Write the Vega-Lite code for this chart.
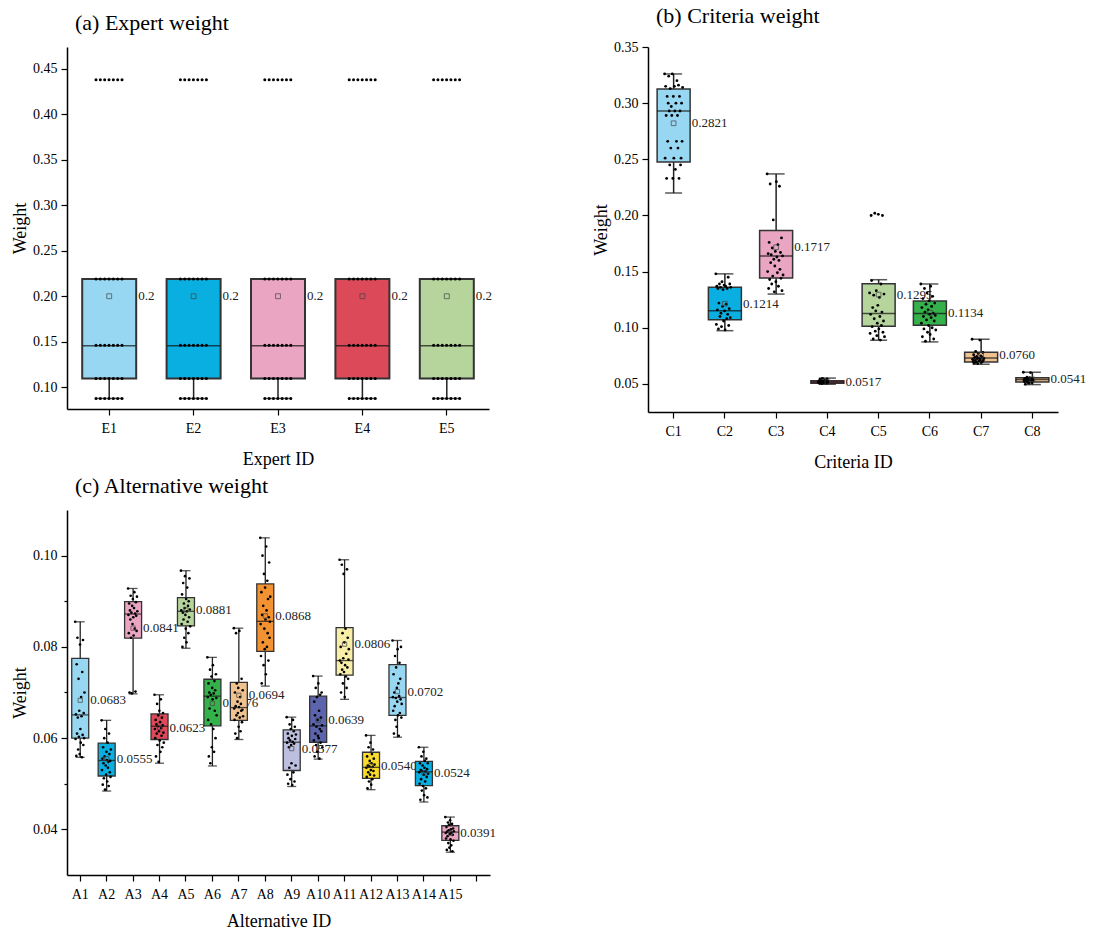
{
"$schema": "https://vega.github.io/schema/vega-lite/v6.json",
"background": "white",
"padding": {"left": 11, "top": 5, "right": 5, "bottom": 2},
"resolve": {"scale": {"color": "independent", "xOffset": "independent"}},
"datasets": {
"as": [
{"g":"E1","lo":0.0876,"q1":0.1096,"md":0.1455,"q3":0.219,"hi":0.219,"mean":0.2},
{"g":"E2","lo":0.0876,"q1":0.1096,"md":0.1455,"q3":0.219,"hi":0.219,"mean":0.2},
{"g":"E3","lo":0.0876,"q1":0.1096,"md":0.1455,"q3":0.219,"hi":0.219,"mean":0.2},
{"g":"E4","lo":0.0876,"q1":0.1096,"md":0.1455,"q3":0.219,"hi":0.219,"mean":0.2},
{"g":"E5","lo":0.0876,"q1":0.1096,"md":0.1455,"q3":0.219,"hi":0.219,"mean":0.2}
],
"ap": [
{"g":"E1","v":0.438},{"g":"E1","v":0.438},{"g":"E1","v":0.438},{"g":"E1","v":0.438},{"g":"E1","v":0.438},{"g":"E1","v":0.438},{"g":"E1","v":0.438},
{"g":"E1","v":0.219},{"g":"E1","v":0.219},{"g":"E1","v":0.219},{"g":"E1","v":0.219},{"g":"E1","v":0.219},{"g":"E1","v":0.219},{"g":"E1","v":0.219},
{"g":"E1","v":0.146},{"g":"E1","v":0.146},{"g":"E1","v":0.146},{"g":"E1","v":0.146},{"g":"E1","v":0.146},{"g":"E1","v":0.146},{"g":"E1","v":0.146},
{"g":"E1","v":0.1096},{"g":"E1","v":0.1096},{"g":"E1","v":0.1096},{"g":"E1","v":0.1096},{"g":"E1","v":0.1096},{"g":"E1","v":0.1096},{"g":"E1","v":0.1096},
{"g":"E1","v":0.0876},{"g":"E1","v":0.0876},{"g":"E1","v":0.0876},{"g":"E1","v":0.0876},{"g":"E1","v":0.0876},{"g":"E1","v":0.0876},{"g":"E1","v":0.0876},
{"g":"E2","v":0.438},{"g":"E2","v":0.438},{"g":"E2","v":0.438},{"g":"E2","v":0.438},{"g":"E2","v":0.438},{"g":"E2","v":0.438},{"g":"E2","v":0.438},
{"g":"E2","v":0.219},{"g":"E2","v":0.219},{"g":"E2","v":0.219},{"g":"E2","v":0.219},{"g":"E2","v":0.219},{"g":"E2","v":0.219},{"g":"E2","v":0.219},
{"g":"E2","v":0.146},{"g":"E2","v":0.146},{"g":"E2","v":0.146},{"g":"E2","v":0.146},{"g":"E2","v":0.146},{"g":"E2","v":0.146},{"g":"E2","v":0.146},
{"g":"E2","v":0.1096},{"g":"E2","v":0.1096},{"g":"E2","v":0.1096},{"g":"E2","v":0.1096},{"g":"E2","v":0.1096},{"g":"E2","v":0.1096},{"g":"E2","v":0.1096},
{"g":"E2","v":0.0876},{"g":"E2","v":0.0876},{"g":"E2","v":0.0876},{"g":"E2","v":0.0876},{"g":"E2","v":0.0876},{"g":"E2","v":0.0876},{"g":"E2","v":0.0876},
{"g":"E3","v":0.438},{"g":"E3","v":0.438},{"g":"E3","v":0.438},{"g":"E3","v":0.438},{"g":"E3","v":0.438},{"g":"E3","v":0.438},{"g":"E3","v":0.438},
{"g":"E3","v":0.219},{"g":"E3","v":0.219},{"g":"E3","v":0.219},{"g":"E3","v":0.219},{"g":"E3","v":0.219},{"g":"E3","v":0.219},{"g":"E3","v":0.219},
{"g":"E3","v":0.146},{"g":"E3","v":0.146},{"g":"E3","v":0.146},{"g":"E3","v":0.146},{"g":"E3","v":0.146},{"g":"E3","v":0.146},{"g":"E3","v":0.146},
{"g":"E3","v":0.1096},{"g":"E3","v":0.1096},{"g":"E3","v":0.1096},{"g":"E3","v":0.1096},{"g":"E3","v":0.1096},{"g":"E3","v":0.1096},{"g":"E3","v":0.1096},
{"g":"E3","v":0.0876},{"g":"E3","v":0.0876},{"g":"E3","v":0.0876},{"g":"E3","v":0.0876},{"g":"E3","v":0.0876},{"g":"E3","v":0.0876},{"g":"E3","v":0.0876},
{"g":"E4","v":0.438},{"g":"E4","v":0.438},{"g":"E4","v":0.438},{"g":"E4","v":0.438},{"g":"E4","v":0.438},{"g":"E4","v":0.438},{"g":"E4","v":0.438},
{"g":"E4","v":0.219},{"g":"E4","v":0.219},{"g":"E4","v":0.219},{"g":"E4","v":0.219},{"g":"E4","v":0.219},{"g":"E4","v":0.219},{"g":"E4","v":0.219},
{"g":"E4","v":0.146},{"g":"E4","v":0.146},{"g":"E4","v":0.146},{"g":"E4","v":0.146},{"g":"E4","v":0.146},{"g":"E4","v":0.146},{"g":"E4","v":0.146},
{"g":"E4","v":0.1096},{"g":"E4","v":0.1096},{"g":"E4","v":0.1096},{"g":"E4","v":0.1096},{"g":"E4","v":0.1096},{"g":"E4","v":0.1096},{"g":"E4","v":0.1096},
{"g":"E4","v":0.0876},{"g":"E4","v":0.0876},{"g":"E4","v":0.0876},{"g":"E4","v":0.0876},{"g":"E4","v":0.0876},{"g":"E4","v":0.0876},{"g":"E4","v":0.0876},
{"g":"E5","v":0.438},{"g":"E5","v":0.438},{"g":"E5","v":0.438},{"g":"E5","v":0.438},{"g":"E5","v":0.438},{"g":"E5","v":0.438},{"g":"E5","v":0.438},
{"g":"E5","v":0.219},{"g":"E5","v":0.219},{"g":"E5","v":0.219},{"g":"E5","v":0.219},{"g":"E5","v":0.219},{"g":"E5","v":0.219},{"g":"E5","v":0.219},
{"g":"E5","v":0.146},{"g":"E5","v":0.146},{"g":"E5","v":0.146},{"g":"E5","v":0.146},{"g":"E5","v":0.146},{"g":"E5","v":0.146},{"g":"E5","v":0.146},
{"g":"E5","v":0.1096},{"g":"E5","v":0.1096},{"g":"E5","v":0.1096},{"g":"E5","v":0.1096},{"g":"E5","v":0.1096},{"g":"E5","v":0.1096},{"g":"E5","v":0.1096},
{"g":"E5","v":0.0876},{"g":"E5","v":0.0876},{"g":"E5","v":0.0876},{"g":"E5","v":0.0876},{"g":"E5","v":0.0876},{"g":"E5","v":0.0876},{"g":"E5","v":0.0876}
],
"bs": [
{"g":"C1","lo":0.220,"q1":0.2475,"md":0.293,"q3":0.3125,"hi":0.326,"mean":0.2821},
{"g":"C2","lo":0.0974,"q1":0.1072,"md":0.1152,"q3":0.136,"hi":0.148,"mean":0.1214},
{"g":"C3","lo":0.130,"q1":0.1443,"md":0.1639,"q3":0.1867,"hi":0.237,"mean":0.1717},
{"g":"C4","lo":0.0497,"q1":0.0505,"md":0.0517,"q3":0.0528,"hi":0.0552,"mean":0.0517},
{"g":"C5","lo":0.0889,"q1":0.1013,"md":0.1126,"q3":0.1392,"hi":0.1428,"mean":0.1295},
{"g":"C6","lo":0.0874,"q1":0.1022,"md":0.1126,"q3":0.1238,"hi":0.139,"mean":0.1134},
{"g":"C7","lo":0.0675,"q1":0.0696,"md":0.0731,"q3":0.0782,"hi":0.0898,"mean":0.0760},
{"g":"C8","lo":0.0494,"q1":0.0518,"md":0.054,"q3":0.0556,"hi":0.0604,"mean":0.0541}
],
"bp": [
{"g":"C1","v":0.326},{"g":"C1","v":0.251},{"g":"C1","v":0.315},{"g":"C1","v":0.289},{"g":"C1","v":0.233},{"g":"C1","v":0.306},{"g":"C1","v":0.266},{"g":"C1","v":0.300},{"g":"C1","v":0.324},{"g":"C1","v":0.293},{"g":"C1","v":0.245},{"g":"C1","v":0.313},{"g":"C1","v":0.260},{"g":"C1","v":0.297},{"g":"C1","v":0.289},{"g":"C1","v":0.326},{"g":"C1","v":0.233},{"g":"C1","v":0.306},{"g":"C1","v":0.251},{"g":"C1","v":0.315},{"g":"C1","v":0.293},{"g":"C1","v":0.241},{"g":"C1","v":0.300},{"g":"C1","v":0.266},{"g":"C1","v":0.320},{"g":"C1","v":0.289},{"g":"C1","v":0.260},{"g":"C1","v":0.316},{"g":"C1","v":0.233},{"g":"C1","v":0.306},{"g":"C1","v":0.293},{"g":"C1","v":0.245},{"g":"C1","v":0.251},{"g":"C1","v":0.300},{"g":"C1","v":0.266},{"g":"C1","v":0.314},
{"g":"C2","v":0.148},{"g":"C2","v":0.103},{"g":"C2","v":0.137},{"g":"C2","v":0.116},{"g":"C2","v":0.135},{"g":"C2","v":0.099},{"g":"C2","v":0.122},{"g":"C2","v":0.139},{"g":"C2","v":0.110},{"g":"C2","v":0.136},{"g":"C2","v":0.113},{"g":"C2","v":0.101},{"g":"C2","v":0.141},{"g":"C2","v":0.119},{"g":"C2","v":0.134},{"g":"C2","v":0.106},{"g":"C2","v":0.138},{"g":"C2","v":0.115},{"g":"C2","v":0.098},{"g":"C2","v":0.137},{"g":"C2","v":0.121},{"g":"C2","v":0.108},{"g":"C2","v":0.135},{"g":"C2","v":0.112},{"g":"C2","v":0.145},{"g":"C2","v":0.102},{"g":"C2","v":0.117},{"g":"C2","v":0.139},{"g":"C2","v":0.109},{"g":"C2","v":0.136},
{"g":"C3","v":0.237},{"g":"C3","v":0.150},{"g":"C3","v":0.166},{"g":"C3","v":0.135},{"g":"C3","v":0.176},{"g":"C3","v":0.143},{"g":"C3","v":0.228},{"g":"C3","v":0.158},{"g":"C3","v":0.165},{"g":"C3","v":0.139},{"g":"C3","v":0.171},{"g":"C3","v":0.146},{"g":"C3","v":0.196},{"g":"C3","v":0.161},{"g":"C3","v":0.132},{"g":"C3","v":0.155},{"g":"C3","v":0.168},{"g":"C3","v":0.141},{"g":"C3","v":0.230},{"g":"C3","v":0.163},{"g":"C3","v":0.149},{"g":"C3","v":0.174},{"g":"C3","v":0.137},{"g":"C3","v":0.160},{"g":"C3","v":0.226},{"g":"C3","v":0.152},{"g":"C3","v":0.167},{"g":"C3","v":0.144},{"g":"C3","v":0.180},{"g":"C3","v":0.133},{"g":"C3","v":0.164},{"g":"C3","v":0.147},
{"g":"C4","v":0.0515},{"g":"C4","v":0.0525},{"g":"C4","v":0.0505},{"g":"C4","v":0.0540},{"g":"C4","v":0.0518},{"g":"C4","v":0.0512},{"g":"C4","v":0.0530},{"g":"C4","v":0.0502},{"g":"C4","v":0.0550},{"g":"C4","v":0.0516},{"g":"C4","v":0.0522},{"g":"C4","v":0.0508},{"g":"C4","v":0.0535},{"g":"C4","v":0.0519},{"g":"C4","v":0.0511},{"g":"C4","v":0.0527},{"g":"C4","v":0.0504},{"g":"C4","v":0.0545},{"g":"C4","v":0.0514},{"g":"C4","v":0.0520},
{"g":"C5","v":0.131},{"g":"C5","v":0.095},{"g":"C5","v":0.112},{"g":"C5","v":0.200},{"g":"C5","v":0.142},{"g":"C5","v":0.101},{"g":"C5","v":0.118},{"g":"C5","v":0.090},{"g":"C5","v":0.129},{"g":"C5","v":0.108},{"g":"C5","v":0.202},{"g":"C5","v":0.097},{"g":"C5","v":0.115},{"g":"C5","v":0.133},{"g":"C5","v":0.093},{"g":"C5","v":0.104},{"g":"C5","v":0.120},{"g":"C5","v":0.201},{"g":"C5","v":0.099},{"g":"C5","v":0.127},{"g":"C5","v":0.110},{"g":"C5","v":0.089},{"g":"C5","v":0.139},{"g":"C5","v":0.102},{"g":"C5","v":0.114},{"g":"C5","v":0.200},{"g":"C5","v":0.096},{"g":"C5","v":0.106},{"g":"C5","v":0.130},{"g":"C5","v":0.092},
{"g":"C6","v":0.139},{"g":"C6","v":0.104},{"g":"C6","v":0.118},{"g":"C6","v":0.092},{"g":"C6","v":0.126},{"g":"C6","v":0.110},{"g":"C6","v":0.099},{"g":"C6","v":0.135},{"g":"C6","v":0.114},{"g":"C6","v":0.088},{"g":"C6","v":0.121},{"g":"C6","v":0.107},{"g":"C6","v":0.131},{"g":"C6","v":0.096},{"g":"C6","v":0.116},{"g":"C6","v":0.102},{"g":"C6","v":0.124},{"g":"C6","v":0.112},{"g":"C6","v":0.094},{"g":"C6","v":0.137},{"g":"C6","v":0.109},{"g":"C6","v":0.119},{"g":"C6","v":0.100},{"g":"C6","v":0.128},{"g":"C6","v":0.113},{"g":"C6","v":0.090},{"g":"C6","v":0.106},{"g":"C6","v":0.122},{"g":"C6","v":0.111},{"g":"C6","v":0.098},
{"g":"C7","v":0.0898},{"g":"C7","v":0.0720},{"g":"C7","v":0.0700},{"g":"C7","v":0.0760},{"g":"C7","v":0.0685},{"g":"C7","v":0.0735},{"g":"C7","v":0.0710},{"g":"C7","v":0.0790},{"g":"C7","v":0.0695},{"g":"C7","v":0.0745},{"g":"C7","v":0.0725},{"g":"C7","v":0.0680},{"g":"C7","v":0.0770},{"g":"C7","v":0.0705},{"g":"C7","v":0.0730},{"g":"C7","v":0.0890},{"g":"C7","v":0.0715},{"g":"C7","v":0.0750},{"g":"C7","v":0.0690},{"g":"C7","v":0.0740},{"g":"C7","v":0.0700},{"g":"C7","v":0.0780},{"g":"C7","v":0.0712},{"g":"C7","v":0.0728},
{"g":"C8","v":0.0604},{"g":"C8","v":0.0535},{"g":"C8","v":0.0520},{"g":"C8","v":0.0550},{"g":"C8","v":0.0498},{"g":"C8","v":0.0542},{"g":"C8","v":0.0528},{"g":"C8","v":0.0560},{"g":"C8","v":0.0515},{"g":"C8","v":0.0545},{"g":"C8","v":0.0538},{"g":"C8","v":0.0505},{"g":"C8","v":0.0555},{"g":"C8","v":0.0532},{"g":"C8","v":0.0600},{"g":"C8","v":0.0525},{"g":"C8","v":0.0548},{"g":"C8","v":0.0510},{"g":"C8","v":0.0540},{"g":"C8","v":0.0530}
],
"cs": [
{"g":"A1","lo":0.0558,"q1":0.0600,"md":0.0651,"q3":0.0775,"hi":0.0855,"mean":0.0683},
{"g":"A2","lo":0.0484,"q1":0.0517,"md":0.0551,"q3":0.0589,"hi":0.0639,"mean":0.0555},
{"g":"A3","lo":0.0697,"q1":0.0819,"md":0.0872,"q3":0.0899,"hi":0.0928,"mean":0.0841},
{"g":"A4","lo":0.0545,"q1":0.0597,"md":0.0626,"q3":0.0653,"hi":0.0695,"mean":0.0623},
{"g":"A5","lo":0.0797,"q1":0.0846,"md":0.0878,"q3":0.0908,"hi":0.0967,"mean":0.0881},
{"g":"A6","lo":0.0539,"q1":0.0627,"md":0.0692,"q3":0.0729,"hi":0.0777,"mean":0.0676},
{"g":"A7","lo":0.0597,"q1":0.0639,"md":0.0667,"q3":0.0722,"hi":0.0841,"mean":0.0694},
{"g":"A8","lo":0.0714,"q1":0.0790,"md":0.0856,"q3":0.0938,"hi":0.1039,"mean":0.0868},
{"g":"A9","lo":0.0494,"q1":0.0529,"md":0.0591,"q3":0.0618,"hi":0.0646,"mean":0.0577},
{"g":"A10","lo":0.0554,"q1":0.0591,"md":0.0627,"q3":0.0692,"hi":0.0736,"mean":0.0639},
{"g":"A11","lo":0.0685,"q1":0.0738,"md":0.0770,"q3":0.0842,"hi":0.0991,"mean":0.0806},
{"g":"A12","lo":0.0487,"q1":0.0512,"md":0.0536,"q3":0.0569,"hi":0.0606,"mean":0.0540},
{"g":"A13","lo":0.0602,"q1":0.0650,"md":0.0689,"q3":0.0761,"hi":0.0814,"mean":0.0702},
{"g":"A14","lo":0.0460,"q1":0.0496,"md":0.0526,"q3":0.0549,"hi":0.0580,"mean":0.0524},
{"g":"A15","lo":0.0350,"q1":0.0376,"md":0.0394,"q3":0.0408,"hi":0.0427,"mean":0.0391}
],
"cp": [
{"g":"A1","v":0.0855},{"g":"A1","v":0.0598},{"g":"A1","v":0.0652},{"g":"A1","v":0.0561},{"g":"A1","v":0.0762},{"g":"A1","v":0.0610},{"g":"A1","v":0.0820},{"g":"A1","v":0.0645},{"g":"A1","v":0.0575},{"g":"A1","v":0.0730},{"g":"A1","v":0.0603},{"g":"A1","v":0.0660},{"g":"A1","v":0.0565},{"g":"A1","v":0.0805},{"g":"A1","v":0.0620},{"g":"A1","v":0.0590},{"g":"A1","v":0.0690},{"g":"A1","v":0.0648},{"g":"A1","v":0.0558},{"g":"A1","v":0.0745},{"g":"A1","v":0.0607},{"g":"A1","v":0.0815},{"g":"A1","v":0.0585},{"g":"A1","v":0.0655},{"g":"A1","v":0.0600},{"g":"A1","v":0.0700},
{"g":"A2","v":0.0639},{"g":"A2","v":0.0530},{"g":"A2","v":0.0555},{"g":"A2","v":0.0498},{"g":"A2","v":0.0580},{"g":"A2","v":0.0545},{"g":"A2","v":0.0512},{"g":"A2","v":0.0600},{"g":"A2","v":0.0560},{"g":"A2","v":0.0487},{"g":"A2","v":0.0620},{"g":"A2","v":0.0540},{"g":"A2","v":0.0520},{"g":"A2","v":0.0570},{"g":"A2","v":0.0552},{"g":"A2","v":0.0505},{"g":"A2","v":0.0590},{"g":"A2","v":0.0535},{"g":"A2","v":0.0548},{"g":"A2","v":0.0495},{"g":"A2","v":0.0610},{"g":"A2","v":0.0565},{"g":"A2","v":0.0525},{"g":"A2","v":0.0550},{"g":"A2","v":0.0515},{"g":"A2","v":0.0575},
{"g":"A3","v":0.0928},{"g":"A3","v":0.0870},{"g":"A3","v":0.0830},{"g":"A3","v":0.0895},{"g":"A3","v":0.0700},{"g":"A3","v":0.0880},{"g":"A3","v":0.0860},{"g":"A3","v":0.0912},{"g":"A3","v":0.0820},{"g":"A3","v":0.0875},{"g":"A3","v":0.0698},{"g":"A3","v":0.0890},{"g":"A3","v":0.0850},{"g":"A3","v":0.0905},{"g":"A3","v":0.0865},{"g":"A3","v":0.0825},{"g":"A3","v":0.0885},{"g":"A3","v":0.0920},{"g":"A3","v":0.0840},{"g":"A3","v":0.0873},{"g":"A3","v":0.0702},{"g":"A3","v":0.0898},{"g":"A3","v":0.0868},{"g":"A3","v":0.0835},{"g":"A3","v":0.0910},{"g":"A3","v":0.0878},
{"g":"A4","v":0.0695},{"g":"A4","v":0.0620},{"g":"A4","v":0.0600},{"g":"A4","v":0.0640},{"g":"A4","v":0.0560},{"g":"A4","v":0.0630},{"g":"A4","v":0.0610},{"g":"A4","v":0.0675},{"g":"A4","v":0.0585},{"g":"A4","v":0.0626},{"g":"A4","v":0.0650},{"g":"A4","v":0.0548},{"g":"A4","v":0.0615},{"g":"A4","v":0.0660},{"g":"A4","v":0.0595},{"g":"A4","v":0.0635},{"g":"A4","v":0.0570},{"g":"A4","v":0.0685},{"g":"A4","v":0.0622},{"g":"A4","v":0.0605},{"g":"A4","v":0.0645},{"g":"A4","v":0.0580},{"g":"A4","v":0.0628},{"g":"A4","v":0.0655},{"g":"A4","v":0.0612},{"g":"A4","v":0.0590},
{"g":"A5","v":0.0967},{"g":"A5","v":0.0880},{"g":"A5","v":0.0850},{"g":"A5","v":0.0915},{"g":"A5","v":0.0800},{"g":"A5","v":0.0875},{"g":"A5","v":0.0940},{"g":"A5","v":0.0860},{"g":"A5","v":0.0895},{"g":"A5","v":0.0820},{"g":"A5","v":0.0885},{"g":"A5","v":0.0955},{"g":"A5","v":0.0870},{"g":"A5","v":0.0840},{"g":"A5","v":0.0905},{"g":"A5","v":0.0810},{"g":"A5","v":0.0878},{"g":"A5","v":0.0930},{"g":"A5","v":0.0855},{"g":"A5","v":0.0890},{"g":"A5","v":0.0830},{"g":"A5","v":0.0900},{"g":"A5","v":0.0865},{"g":"A5","v":0.0950},{"g":"A5","v":0.0882},{"g":"A5","v":0.0845},
{"g":"A6","v":0.0777},{"g":"A6","v":0.0690},{"g":"A6","v":0.0640},{"g":"A6","v":0.0720},{"g":"A6","v":0.0560},{"g":"A6","v":0.0700},{"g":"A6","v":0.0665},{"g":"A6","v":0.0750},{"g":"A6","v":0.0545},{"g":"A6","v":0.0695},{"g":"A6","v":0.0630},{"g":"A6","v":0.0735},{"g":"A6","v":0.0580},{"g":"A6","v":0.0710},{"g":"A6","v":0.0685},{"g":"A6","v":0.0760},{"g":"A6","v":0.0620},{"g":"A6","v":0.0698},{"g":"A6","v":0.0570},{"g":"A6","v":0.0725},{"g":"A6","v":0.0660},{"g":"A6","v":0.0705},{"g":"A6","v":0.0600},{"g":"A6","v":0.0740},{"g":"A6","v":0.0688},{"g":"A6","v":0.0650},
{"g":"A7","v":0.0841},{"g":"A7","v":0.0665},{"g":"A7","v":0.0640},{"g":"A7","v":0.0700},{"g":"A7","v":0.0610},{"g":"A7","v":0.0670},{"g":"A7","v":0.0830},{"g":"A7","v":0.0650},{"g":"A7","v":0.0720},{"g":"A7","v":0.0600},{"g":"A7","v":0.0680},{"g":"A7","v":0.0655},{"g":"A7","v":0.0710},{"g":"A7","v":0.0625},{"g":"A7","v":0.0668},{"g":"A7","v":0.0835},{"g":"A7","v":0.0645},{"g":"A7","v":0.0690},{"g":"A7","v":0.0615},{"g":"A7","v":0.0675},{"g":"A7","v":0.0660},{"g":"A7","v":0.0730},{"g":"A7","v":0.0635},{"g":"A7","v":0.0662},{"g":"A7","v":0.0705},{"g":"A7","v":0.0648},
{"g":"A8","v":0.1039},{"g":"A8","v":0.0850},{"g":"A8","v":0.0780},{"g":"A8","v":0.0920},{"g":"A8","v":0.0720},{"g":"A8","v":0.0870},{"g":"A8","v":0.1000},{"g":"A8","v":0.0810},{"g":"A8","v":0.0890},{"g":"A8","v":0.0760},{"g":"A8","v":0.0960},{"g":"A8","v":0.0840},{"g":"A8","v":0.0795},{"g":"A8","v":0.0930},{"g":"A8","v":0.0860},{"g":"A8","v":0.0740},{"g":"A8","v":0.1020},{"g":"A8","v":0.0880},{"g":"A8","v":0.0800},{"g":"A8","v":0.0945},{"g":"A8","v":0.0830},{"g":"A8","v":0.0905},{"g":"A8","v":0.0770},{"g":"A8","v":0.0865},{"g":"A8","v":0.0985},{"g":"A8","v":0.0820},{"g":"A8","v":0.0855},{"g":"A8","v":0.0910},
{"g":"A9","v":0.0646},{"g":"A9","v":0.0590},{"g":"A9","v":0.0520},{"g":"A9","v":0.0610},{"g":"A9","v":0.0500},{"g":"A9","v":0.0600},{"g":"A9","v":0.0580},{"g":"A9","v":0.0535},{"g":"A9","v":0.0630},{"g":"A9","v":0.0595},{"g":"A9","v":0.0510},{"g":"A9","v":0.0620},{"g":"A9","v":0.0585},{"g":"A9","v":0.0545},{"g":"A9","v":0.0605},{"g":"A9","v":0.0497},{"g":"A9","v":0.0592},{"g":"A9","v":0.0640},{"g":"A9","v":0.0525},{"g":"A9","v":0.0615},{"g":"A9","v":0.0588},{"g":"A9","v":0.0505},{"g":"A9","v":0.0625},{"g":"A9","v":0.0598},{"g":"A9","v":0.0540},{"g":"A9","v":0.0608},
{"g":"A10","v":0.0736},{"g":"A10","v":0.0630},{"g":"A10","v":0.0595},{"g":"A10","v":0.0680},{"g":"A10","v":0.0560},{"g":"A10","v":0.0650},{"g":"A10","v":0.0610},{"g":"A10","v":0.0710},{"g":"A10","v":0.0585},{"g":"A10","v":0.0625},{"g":"A10","v":0.0690},{"g":"A10","v":0.0570},{"g":"A10","v":0.0640},{"g":"A10","v":0.0605},{"g":"A10","v":0.0720},{"g":"A10","v":0.0600},{"g":"A10","v":0.0660},{"g":"A10","v":0.0555},{"g":"A10","v":0.0620},{"g":"A10","v":0.0695},{"g":"A10","v":0.0590},{"g":"A10","v":0.0645},{"g":"A10","v":0.0615},{"g":"A10","v":0.0700},{"g":"A10","v":0.0628},{"g":"A10","v":0.0580},
{"g":"A11","v":0.0991},{"g":"A11","v":0.0770},{"g":"A11","v":0.0740},{"g":"A11","v":0.0800},{"g":"A11","v":0.0700},{"g":"A11","v":0.0765},{"g":"A11","v":0.0980},{"g":"A11","v":0.0750},{"g":"A11","v":0.0830},{"g":"A11","v":0.0720},{"g":"A11","v":0.0775},{"g":"A11","v":0.0960},{"g":"A11","v":0.0745},{"g":"A11","v":0.0810},{"g":"A11","v":0.0690},{"g":"A11","v":0.0760},{"g":"A11","v":0.0840},{"g":"A11","v":0.0735},{"g":"A11","v":0.0785},{"g":"A11","v":0.0710},{"g":"A11","v":0.0970},{"g":"A11","v":0.0755},{"g":"A11","v":0.0820},{"g":"A11","v":0.0730},{"g":"A11","v":0.0772},{"g":"A11","v":0.0795},
{"g":"A12","v":0.0606},{"g":"A12","v":0.0535},{"g":"A12","v":0.0515},{"g":"A12","v":0.0560},{"g":"A12","v":0.0490},{"g":"A12","v":0.0540},{"g":"A12","v":0.0525},{"g":"A12","v":0.0580},{"g":"A12","v":0.0505},{"g":"A12","v":0.0538},{"g":"A12","v":0.0550},{"g":"A12","v":0.0520},{"g":"A12","v":0.0590},{"g":"A12","v":0.0530},{"g":"A12","v":0.0498},{"g":"A12","v":0.0545},{"g":"A12","v":0.0565},{"g":"A12","v":0.0510},{"g":"A12","v":0.0537},{"g":"A12","v":0.0575},{"g":"A12","v":0.0528},{"g":"A12","v":0.0555},{"g":"A12","v":0.0518},{"g":"A12","v":0.0542},
{"g":"A13","v":0.0814},{"g":"A13","v":0.0690},{"g":"A13","v":0.0660},{"g":"A13","v":0.0740},{"g":"A13","v":0.0610},{"g":"A13","v":0.0700},{"g":"A13","v":0.0670},{"g":"A13","v":0.0780},{"g":"A13","v":0.0640},{"g":"A13","v":0.0688},{"g":"A13","v":0.0755},{"g":"A13","v":0.0625},{"g":"A13","v":0.0710},{"g":"A13","v":0.0680},{"g":"A13","v":0.0795},{"g":"A13","v":0.0650},{"g":"A13","v":0.0720},{"g":"A13","v":0.0605},{"g":"A13","v":0.0692},{"g":"A13","v":0.0765},{"g":"A13","v":0.0655},{"g":"A13","v":0.0730},{"g":"A13","v":0.0685},{"g":"A13","v":0.0800},{"g":"A13","v":0.0645},{"g":"A13","v":0.0675},
{"g":"A14","v":0.0580},{"g":"A14","v":0.0525},{"g":"A14","v":0.0500},{"g":"A14","v":0.0545},{"g":"A14","v":0.0465},{"g":"A14","v":0.0530},{"g":"A14","v":0.0510},{"g":"A14","v":0.0560},{"g":"A14","v":0.0485},{"g":"A14","v":0.0528},{"g":"A14","v":0.0540},{"g":"A14","v":0.0495},{"g":"A14","v":0.0570},{"g":"A14","v":0.0520},{"g":"A14","v":0.0475},{"g":"A14","v":0.0535},{"g":"A14","v":0.0550},{"g":"A14","v":0.0505},{"g":"A14","v":0.0527},{"g":"A14","v":0.0490},{"g":"A14","v":0.0555},{"g":"A14","v":0.0515},{"g":"A14","v":0.0532},{"g":"A14","v":0.0470},{"g":"A14","v":0.0545},{"g":"A14","v":0.0522},
{"g":"A15","v":0.0427},{"g":"A15","v":0.0392},{"g":"A15","v":0.0380},{"g":"A15","v":0.0405},{"g":"A15","v":0.0355},{"g":"A15","v":0.0395},{"g":"A15","v":0.0385},{"g":"A15","v":0.0415},{"g":"A15","v":0.0370},{"g":"A15","v":0.0398},{"g":"A15","v":0.0410},{"g":"A15","v":0.0360},{"g":"A15","v":0.0390},{"g":"A15","v":0.0420},{"g":"A15","v":0.0378},{"g":"A15","v":0.0400},{"g":"A15","v":0.0365},{"g":"A15","v":0.0393},{"g":"A15","v":0.0412},{"g":"A15","v":0.0352},{"g":"A15","v":0.0388},{"g":"A15","v":0.0402},{"g":"A15","v":0.0375},{"g":"A15","v":0.0396}
]
},
"spacing": 4,
"vconcat": [
{
"spacing": 99,
"resolve": {"scale": {"color": "independent", "xOffset": "independent"}},
"hconcat": [
{
"width": 422, "height": 362,
"title": {"text": "(a) Expert weight"},
"encoding": {"x": {"field": "g", "type": "nominal", "title": "Expert ID", "scale": {"domain": ["E1","E2","E3","E4","E5"], "paddingInner": 0, "paddingOuter": 0}, "axis": {"labelOverlap": false, "titlePadding": 15}}},
"layer": [
{"data": {"name": "as"}, "mark": {"type": "text", "align": "left", "baseline": "middle", "dx": 29, "fontSize": 13, "color": "#222"},
 "encoding": {"y": {"field": "mean", "type": "quantitative", "title": "Weight", "scale": {"domain": [0.076, 0.474], "nice": false, "zero": false},
   "axis": {"values": [0.1,0.125,0.15,0.175,0.2,0.225,0.25,0.275,0.3,0.325,0.35,0.375,0.4,0.425,0.45], "labelExpr": "round(datum.value*1000) % 50 === 0 ? format(datum.value, '.2f') : ''", "tickSize": {"condition": {"test": "round(datum.value*1000) % 50 === 0", "value": 6}, "value": 3}}},
  "text": {"field": "mean", "type": "quantitative"}}},
{"data": {"name": "as"}, "mark": {"type": "rule", "color": "#222", "strokeWidth": 1.5},
 "encoding": {"y": {"field": "lo", "type": "quantitative", "title": "Weight", "scale": {"domain": [0.076, 0.474], "nice": false, "zero": false}}, "y2": {"field": "hi"}}},
{"data": {"name": "as"}, "mark": {"type": "bar", "width": 54, "stroke": "#333", "strokeWidth": 2},
 "encoding": {"y": {"field": "q1", "type": "quantitative", "title": "Weight", "scale": {"domain": [0.076, 0.474], "nice": false, "zero": false}}, "y2": {"field": "q3"},
  "color": {"field": "g", "type": "nominal", "legend": null, "scale": {"domain": ["E1","E2","E3","E4","E5"], "range": ["#98D7F1","#0AAFE2","#EAA5C2","#DC4958","#B5D59C"]}}}},
{"data": {"name": "as"}, "mark": {"type": "tick", "size": 53, "thickness": 1.5, "color": "#111"},
 "encoding": {"y": {"field": "md", "type": "quantitative", "title": "Weight", "scale": {"domain": [0.076, 0.474], "nice": false, "zero": false}}}},
{"data": {"name": "as"}, "mark": {"type": "tick", "size": 28, "thickness": 1.5, "color": "#111"},
 "encoding": {"y": {"field": "lo", "type": "quantitative", "title": "Weight", "scale": {"domain": [0.076, 0.474], "nice": false, "zero": false}}}},
{"data": {"name": "ap"}, "transform": [{"window": [{"op": "row_number", "as": "n"}], "groupby": ["g", "v"]}],
 "mark": {"type": "point", "shape": "circle", "filled": true, "size": 9, "color": "#000", "opacity": 1},
 "encoding": {"xOffset": {"field": "n", "type": "quantitative", "scale": {"domain": [1, 7], "range": [29, 55]}},
  "y": {"field": "v", "type": "quantitative", "title": "Weight", "scale": {"domain": [0.076, 0.474], "nice": false, "zero": false}}}},
{"data": {"name": "as"}, "mark": {"type": "point", "shape": "square", "size": 24, "filled": false, "stroke": "#444", "strokeWidth": 1},
 "encoding": {"y": {"field": "mean", "type": "quantitative", "title": "Weight", "scale": {"domain": [0.076, 0.474], "nice": false, "zero": false}}}}
]
},
{
"width": 410, "height": 365,
"title": {"text": "(b) Criteria weight"},
"encoding": {"x": {"field": "g", "type": "nominal", "title": "Criteria ID", "scale": {"domain": ["C1","C2","C3","C4","C5","C6","C7","C8"], "paddingInner": 0, "paddingOuter": 0}, "axis": {"labelOverlap": false, "titlePadding": 15}}},
"layer": [
{"data": {"name": "bs"}, "mark": {"type": "text", "align": "left", "baseline": "middle", "dx": 18, "fontSize": 13, "color": "#222"},
 "encoding": {"y": {"field": "mean", "type": "quantitative", "title": "Weight", "scale": {"domain": [0.025, 0.35], "nice": false, "zero": false},
   "axis": {"values": [0.05,0.075,0.1,0.125,0.15,0.175,0.2,0.225,0.25,0.275,0.3,0.325,0.35], "labelExpr": "round(datum.value*1000) % 50 === 0 ? format(datum.value, '.2f') : ''", "tickSize": {"condition": {"test": "round(datum.value*1000) % 50 === 0", "value": 6}, "value": 3}}},
  "text": {"field": "mean", "type": "quantitative", "format": ".4f"}}},
{"data": {"name": "bs"}, "mark": {"type": "rule", "color": "#222", "strokeWidth": 1.5},
 "encoding": {"y": {"field": "lo", "type": "quantitative", "title": "Weight", "scale": {"domain": [0.025, 0.35], "nice": false, "zero": false}}, "y2": {"field": "hi"}}},
{"data": {"name": "bs"}, "mark": {"type": "bar", "width": 33, "stroke": "#333", "strokeWidth": 1.5},
 "encoding": {"y": {"field": "q1", "type": "quantitative", "title": "Weight", "scale": {"domain": [0.025, 0.35], "nice": false, "zero": false}}, "y2": {"field": "q3"},
  "color": {"field": "g", "type": "nominal", "legend": null, "scale": {"domain": ["C1","C2","C3","C4","C5","C6","C7","C8"], "range": ["#98D7F1","#0AAFE2","#EAA5C2","#DC4958","#B5D59C","#34B14B","#F0C290","#F0C290"]}}}},
{"data": {"name": "bs"}, "mark": {"type": "tick", "size": 33, "thickness": 1.5, "color": "#111"},
 "encoding": {"y": {"field": "md", "type": "quantitative", "title": "Weight", "scale": {"domain": [0.025, 0.35], "nice": false, "zero": false}}}},
{"data": {"name": "bs"}, "mark": {"type": "tick", "size": 17, "thickness": 1.5, "color": "#111"},
 "encoding": {"y": {"field": "lo", "type": "quantitative", "title": "Weight", "scale": {"domain": [0.025, 0.35], "nice": false, "zero": false}}}},
{"data": {"name": "bs"}, "mark": {"type": "tick", "size": 17, "thickness": 1.5, "color": "#111"},
 "encoding": {"y": {"field": "hi", "type": "quantitative", "title": "Weight", "scale": {"domain": [0.025, 0.35], "nice": false, "zero": false}}}},
{"data": {"name": "bp"}, "transform": [{"window": [{"op": "row_number", "as": "n"}], "groupby": ["g"]}],
 "mark": {"type": "point", "shape": "circle", "filled": true, "size": 8, "color": "#000", "opacity": 1},
 "encoding": {"xOffset": {"field": "n", "type": "quantitative", "scale": {"domain": [1, 36], "range": [16.6, 34.6]}},
  "y": {"field": "v", "type": "quantitative", "title": "Weight", "scale": {"domain": [0.025, 0.35], "nice": false, "zero": false}}}},
{"data": {"name": "bs"}, "mark": {"type": "point", "shape": "square", "size": 22, "filled": false, "stroke": "#444", "strokeWidth": 1},
 "encoding": {"y": {"field": "mean", "type": "quantitative", "title": "Weight", "scale": {"domain": [0.025, 0.35], "nice": false, "zero": false}}}}
]
}
]
},
{
"width": 423, "height": 365,
"title": {"text": "(c) Alternative weight"},
"encoding": {"x": {"field": "g", "type": "nominal", "title": "Alternative ID", "scale": {"domain": ["A1","A2","A3","A4","A5","A6","A7","A8","A9","A10","A11","A12","A13","A14","A15","A16"], "paddingInner": 0, "paddingOuter": 0}, "axis": {"labelOverlap": false, "titlePadding": 11, "labelExpr": "datum.value === 'A16' ? '' : datum.value"}}},
"layer": [
{"data": {"name": "cs"}, "mark": {"type": "text", "align": "left", "baseline": "middle", "dx": 10, "fontSize": 13, "color": "#222"},
 "encoding": {"y": {"field": "mean", "type": "quantitative", "title": "Weight", "scale": {"domain": [0.03, 0.11], "nice": false, "zero": false},
   "axis": {"values": [0.04,0.05,0.06,0.07,0.08,0.09,0.1], "labelExpr": "round(datum.value*100) % 2 === 0 ? format(datum.value, '.2f') : ''", "tickSize": {"condition": {"test": "round(datum.value*100) % 2 === 0", "value": 6}, "value": 3}}},
  "text": {"field": "mean", "type": "quantitative", "format": ".4f"}}},
{"data": {"name": "cs"}, "mark": {"type": "rule", "color": "#222", "strokeWidth": 1.3},
 "encoding": {"y": {"field": "lo", "type": "quantitative", "title": "Weight", "scale": {"domain": [0.03, 0.11], "nice": false, "zero": false}}, "y2": {"field": "hi"}}},
{"data": {"name": "cs"}, "mark": {"type": "bar", "width": 17, "stroke": "#333", "strokeWidth": 1.3},
 "encoding": {"y": {"field": "q1", "type": "quantitative", "title": "Weight", "scale": {"domain": [0.03, 0.11], "nice": false, "zero": false}}, "y2": {"field": "q3"},
  "color": {"field": "g", "type": "nominal", "legend": null, "scale": {"domain": ["A1","A2","A3","A4","A5","A6","A7","A8","A9","A10","A11","A12","A13","A14","A15"], "range": ["#98D7F1","#0AAFE2","#EAA5C2","#DC4958","#B5D59C","#34B14B","#F0C290","#F39232","#BDBFDF","#5B64AD","#F8EEA8","#F9DB2B","#98D7F1","#0AAFE2","#EAA5C2"]}}}},
{"data": {"name": "cs"}, "mark": {"type": "tick", "size": 17, "thickness": 1.3, "color": "#111"},
 "encoding": {"y": {"field": "md", "type": "quantitative", "title": "Weight", "scale": {"domain": [0.03, 0.11], "nice": false, "zero": false}}}},
{"data": {"name": "cs"}, "mark": {"type": "tick", "size": 9, "thickness": 1.3, "color": "#111"},
 "encoding": {"y": {"field": "lo", "type": "quantitative", "title": "Weight", "scale": {"domain": [0.03, 0.11], "nice": false, "zero": false}}}},
{"data": {"name": "cs"}, "mark": {"type": "tick", "size": 9, "thickness": 1.3, "color": "#111"},
 "encoding": {"y": {"field": "hi", "type": "quantitative", "title": "Weight", "scale": {"domain": [0.03, 0.11], "nice": false, "zero": false}}}},
{"data": {"name": "cp"}, "transform": [{"window": [{"op": "row_number", "as": "n"}], "groupby": ["g"]}],
 "mark": {"type": "point", "shape": "circle", "filled": true, "size": 7, "color": "#000", "opacity": 1},
 "encoding": {"xOffset": {"field": "n", "type": "quantitative", "scale": {"domain": [1, 28], "range": [8.2, 18.2]}},
  "y": {"field": "v", "type": "quantitative", "title": "Weight", "scale": {"domain": [0.03, 0.11], "nice": false, "zero": false}}}},
{"data": {"name": "cs"}, "mark": {"type": "point", "shape": "square", "size": 18, "filled": false, "stroke": "#444", "strokeWidth": 1},
 "encoding": {"y": {"field": "mean", "type": "quantitative", "title": "Weight", "scale": {"domain": [0.03, 0.11], "nice": false, "zero": false}}}}
]
}
],
"config": {
"view": {"stroke": null},
"font": "Liberation Serif",
"text": {"font": "Liberation Serif"},
"title": {"font": "Liberation Serif", "fontSize": 22, "fontWeight": "normal", "anchor": "start", "frame": "group", "color": "#000", "offset": 12, "dx": 8},
"axis": {"grid": false, "domainColor": "#000", "domainWidth": 1.5, "tickColor": "#000", "tickWidth": 1.2, "tickSize": 6, "labelFont": "Liberation Serif", "labelFontSize": 14, "labelColor": "#000", "labelPadding": 4, "titleFont": "Liberation Serif", "titleFontSize": 18, "titleFontWeight": "normal", "titleColor": "#000"},
"axisX": {"labelAngle": 0, "labelPadding": 6},
"axisY": {"titlePadding": 3}
}
}
